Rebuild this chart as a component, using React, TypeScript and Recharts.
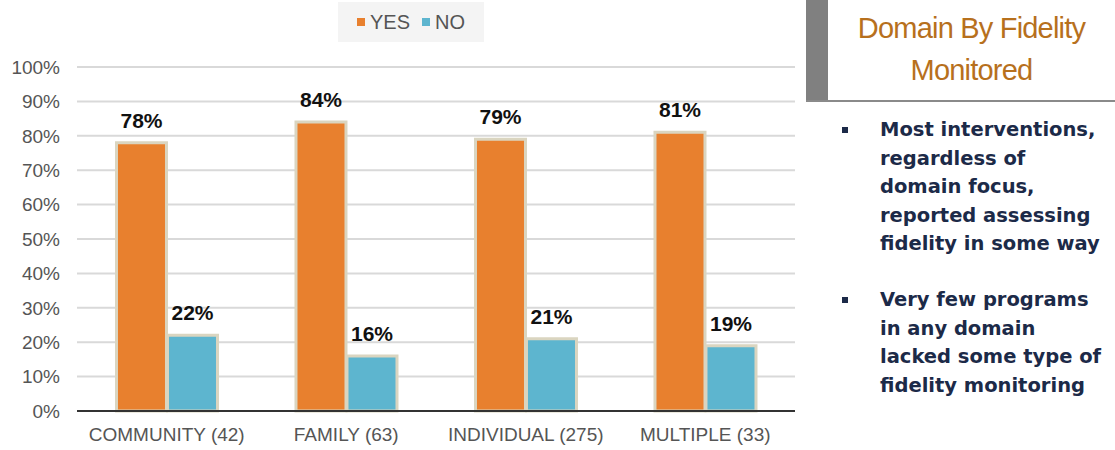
import React from 'react';
import { BarChart, Bar, XAxis, YAxis, CartesianGrid, LabelList } from 'recharts';

const categories = ['COMMUNITY (42)', 'FAMILY (63)', 'INDIVIDUAL (275)', 'MULTIPLE (33)'];
const yesValues = [78, 84, 79, 81];
const noValues = [22, 16, 21, 19];
const yTicks = [0, 10, 20, 30, 40, 50, 60, 70, 80, 90, 100];
const seriesNames = ['YES', 'NO'];

const titleLines = ['Domain By Fidelity', 'Monitored'];
const bullets = [
    ['Most interventions,', 'regardless of', 'domain focus,', 'reported assessing', 'fidelity in some way'],
    ['Very few programs', 'in any domain', 'lacked some type of', 'fidelity monitoring'],
];

const ORANGE = '#E8802E';
const BLUE = '#5DB5CF';
const BORDER = '#DAD5C0';
const FONT = '"Liberation Sans", Arial, sans-serif';

const data = categories.map((name, i) => ({
    name,
    yes: yesValues[i],
    no: noValues[i],
}));

const labelStyle = { fontSize: 21, fontWeight: 'bold', fill: '#111', fontFamily: FONT };

// legend drawn as plain html so it doesn't push the plot area down
const LegendBox = () => (
    <div
        style={{
            position: 'absolute',
            left: 338,
            top: 2,
            width: 146,
            height: 40,
            background: '#f4f4f4',
            display: 'flex',
            alignItems: 'center',
            justifyContent: 'center',
            gap: 12,
            fontFamily: FONT,
            fontSize: 20,
            color: '#555',
        }}
    >
        {seriesNames.map((s, i) => (
            <span key={s} style={{ display: 'flex', alignItems: 'center', gap: 5 }}>
                <span style={{ width: 8, height: 8, background: i === 0 ? ORANGE : BLUE, display: 'inline-block' }} />
                {s}
            </span>
        ))}
    </div>
);

export default function App() {
    return (
        <div style={{ position: 'absolute', left: 0, top: 0, width: 1115, height: 450, background: '#fff' }}>
            <BarChart
                width={800}
                height={450}
                data={data}
                margin={{ top: 67, right: 5, bottom: 9, left: 0 }}
                barCategoryGap="22%"
                barGap={1}
            >
                <CartesianGrid vertical={false} stroke="#d9d9d9" strokeWidth={2} />
                <XAxis
                    dataKey="name"
                    axisLine={{ stroke: '#333', strokeWidth: 2 }}
                    tickLine={false}
                    tickMargin={11}
                    height={30}
                    tick={{ fontSize: 19, fill: '#555', fontFamily: FONT }}
                />
                <YAxis
                    width={77}
                    domain={[0, 100]}
                    ticks={yTicks}
                    interval={0}
                    axisLine={false}
                    tickLine={false}
                    tickSize={0}
                    tickMargin={17}
                    tickFormatter={(v) => `${v}%`}
                    tick={{ fontSize: 19, fill: '#555', fontFamily: FONT }}
                />
                <Bar dataKey="yes" name="YES" fill={ORANGE} stroke={BORDER} strokeWidth={3} isAnimationActive={false}>
                    <LabelList dataKey="yes" position="top" offset={15} formatter={(v: any) => `${v}%`} style={labelStyle} />
                </Bar>
                <Bar dataKey="no" name="NO" fill={BLUE} stroke={BORDER} strokeWidth={3} isAnimationActive={false}>
                    <LabelList dataKey="no" position="top" offset={15} formatter={(v: any) => `${v}%`} style={labelStyle} />
                </Bar>
            </BarChart>
            <LegendBox />

            {/* side panel */}
            <div style={{ position: 'absolute', left: 806, top: 0, width: 22, height: 102, background: '#808080' }} />
            <div style={{ position: 'absolute', left: 806, top: 100, width: 309, height: 2, background: '#8a8a8a' }} />
            <div
                style={{
                    position: 'absolute',
                    left: 828,
                    top: 7,
                    width: 287,
                    textAlign: 'center',
                    color: '#B7701D',
                    fontFamily: FONT,
                    fontSize: 29,
                    lineHeight: '42px',
                    letterSpacing: -0.8,
                }}
            >
                {titleLines.map((t) => (
                    <div key={t}>{t}</div>
                ))}
            </div>
            <div
                style={{
                    position: 'absolute',
                    left: 838,
                    top: 116,
                    width: 277,
                    fontFamily: '"DejaVu Sans", Verdana, sans-serif',
                    fontWeight: 'bold',
                    fontSize: 19.5,
                    lineHeight: '28.6px',
                    color: '#1C2A48',
                }}
            >
                {bullets.map((lines, i) => (
                    <div key={i} style={{ display: 'flex', marginBottom: i === 0 ? 27 : 0 }}>
                        <div style={{ width: 42, flexShrink: 0, position: 'relative' }}>
                            <span style={{ position: 'absolute', left: 4, top: 11, width: 6, height: 6, background: '#1C2A48' }} />
                        </div>
                        <div style={{ whiteSpace: 'nowrap' }}>
                            {lines.map((l) => (
                                <div key={l}>{l}</div>
                            ))}
                        </div>
                    </div>
                ))}
            </div>
        </div>
    );
}
